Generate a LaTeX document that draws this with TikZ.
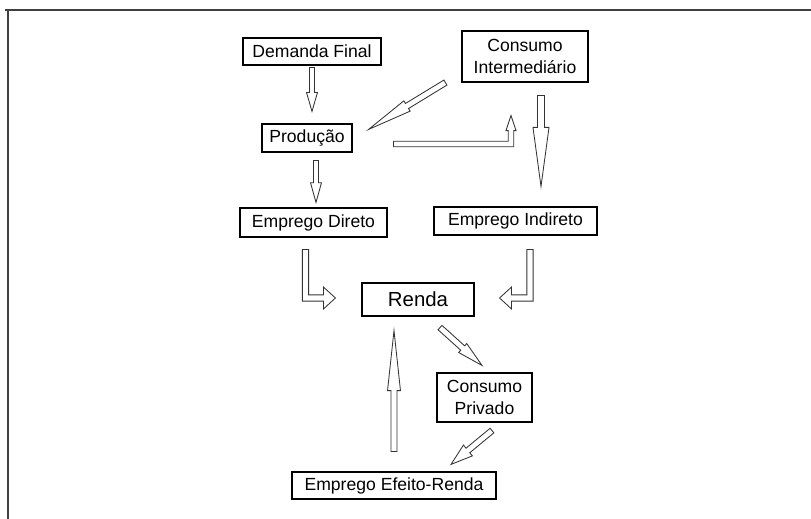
\documentclass[tikz,border=0pt]{standalone}
\usepackage{fontspec}
\setmainfont{Liberation Sans}
\usepackage{tikz}
\usetikzlibrary{calc, positioning}

% hollow block arrow: tail, tip, half shaft, head length, half head width
\newcommand{\blockarrow}[5]{%
  \coordinate (ba-h) at ($(#2)!#4!(#1)$);
  \draw[flow] ($(#1)!#3!90:(#2)$) -- ($(ba-h)!#3!90:(#2)$) -- ($(ba-h)!#5!90:(#2)$)
    -- (#2) -- ($(ba-h)!#5!-90:(#2)$) -- ($(ba-h)!#3!-90:(#2)$) -- ($(#1)!#3!-90:(#2)$) -- cycle;
}
% hollow elbow arrow: tail, corner, tip, half shaft, head length, half head width, |- or -|
\newcommand{\elbowarrow}[7]{%
  \coordinate (ea-h) at ($(#3)!#5!(#2)$);
  \coordinate (ea-l1) at ($(#1)!#4!90:(#2)$);
  \coordinate (ea-r1) at ($(#1)!#4!-90:(#2)$);
  \coordinate (ea-l2) at ($(ea-h)!#4!90:(#3)$);
  \coordinate (ea-r2) at ($(ea-h)!#4!-90:(#3)$);
  \draw[flow] (ea-l1) -- (ea-l1 #7 ea-l2) -- (ea-l2) -- ($(ea-h)!#6!90:(#3)$) -- (#3)
    -- ($(ea-h)!#6!-90:(#3)$) -- (ea-r2) -- (ea-r1 #7 ea-r2) -- (ea-r1) -- cycle;
}

\begin{document}
\begin{tikzpicture}[
  x=0.025cm, y=-0.025cm,
  box/.style={draw, line width=0.8pt, inner sep=0pt, align=center,
              font=\fontsize{12.5}{15.5}\selectfont},
  flow/.style={draw=black!80, fill=white, line width=0.6pt, line join=miter},
  frame/.style={draw=black!75, line width=1.1pt},
]
  \useasboundingbox (0,0) rectangle (811,519);
  \draw[frame] (5,10) -- (811,10);
  \draw[frame] (8,10) -- (8,519);

  \node[box, minimum width=3.45cm,  minimum height=0.675cm] (df)    at (312,51.5)   {Demanda Final};
  \node[box, minimum width=3.15cm,  minimum height=1.275cm] (ci)    at (525,56.5)   {Consumo\\Intermediário};
  \node[box, minimum width=2.25cm,  minimum height=0.7cm]   (prod)  at (307,138)    {Produção};
  \node[box, minimum width=3.675cm, minimum height=0.725cm] (ed)    at (313.5,222.5){Emprego Direto};
  \node[box, minimum width=4.075cm, minimum height=0.7cm]   (ei)    at (515.5,221)  {Emprego Indireto};
  \node[box, minimum width=2.8cm,   minimum height=0.825cm,
        font=\fontsize{14.5}{17}\selectfont]                (renda) at (418,299.5)  {Renda};
  \node[box, minimum width=2.375cm, minimum height=1.225cm] (cp)    at (484.5,397.5){Consumo\\Privado};
  \node[box, minimum width=5.1cm,   minimum height=0.675cm] (eer)   at (394,485.5)  {Emprego Efeito-Renda};

  % arrow ends
  \coordinate (df-t)   at ($(df.south)+(0,2)$);
  \coordinate (df-h)   at ($(df.south |- prod.north)+(0,-12)$);
  \coordinate (ci-t)   at ($(ci.south west)+(-16,0)$);
  \coordinate (ci-h)   at ($(prod.north east)+(16,6)$);
  \coordinate (pr-t)   at ($(prod.east)+(41,6)$);
  \coordinate (pr-h)   at ($(ci.south)+(-14,33)$);
  \coordinate (pr-c)   at (pr-h |- pr-t);
  \coordinate (cd-t)   at ($(ci.south)+(16,13)$);
  \coordinate (cd-h)   at ($(cd-t |- ei.north)+(0,-20)$);
  \coordinate (pd-t)   at ($(prod.south)+(9,8)$);
  \coordinate (pd-h)   at ($(pd-t |- ed.north)+(0,-5)$);
  \coordinate (ed-t)   at ($(ed.south)+(-8,12)$);
  \coordinate (ed-h)   at ($(renda.west)+(-26,-1.5)$);
  \coordinate (ed-c)   at (ed-t |- ed-h);
  \coordinate (ei-t)   at ($(ei.south)+(14.5,14)$);
  \coordinate (ei-h)   at ($(renda.east)+(25,-1.5)$);
  \coordinate (ei-c)   at (ei-t |- ei-h);
  \coordinate (re-t)   at ($(renda.south)+(22,11)$);
  \coordinate (re-h)   at ($(cp.north)+(-2.5,-7)$);
  \coordinate (cp-t)   at ($(cp.south)+(7.5,8)$);
  \coordinate (cp-h)   at ($(eer.north)+(57,-7)$);
  \coordinate (er-t)   at ($(eer.north)+(0,-20)$);
  \coordinate (er-h)   at ($(er-t |- renda.south)+(0,14)$);

  \blockarrow{df-t}{df-h}{1.8pt}{13.5pt}{3.9pt}
  \blockarrow{ci-t}{ci-h}{2.1pt}{32pt}{4.3pt}
  \elbowarrow{pr-t}{pr-c}{pr-h}{2pt}{10.7pt}{3.6pt}{-|}
  \blockarrow{cd-t}{cd-h}{2.5pt}{42pt}{5.7pt}
  \blockarrow{pd-t}{pd-h}{1.8pt}{14pt}{3.9pt}
  \elbowarrow{ed-t}{ed-c}{ed-h}{2.2pt}{8.5pt}{7.8pt}{|-}
  \elbowarrow{ei-t}{ei-c}{ei-h}{2.2pt}{8.5pt}{7.8pt}{|-}
  \blockarrow{re-t}{re-h}{2.1pt}{18.5pt}{4.3pt}
  \blockarrow{cp-t}{cp-h}{2.1pt}{15.6pt}{5pt}
  \blockarrow{er-t}{er-h}{2.1pt}{42.7pt}{4.6pt}
\end{tikzpicture}
\end{document}
